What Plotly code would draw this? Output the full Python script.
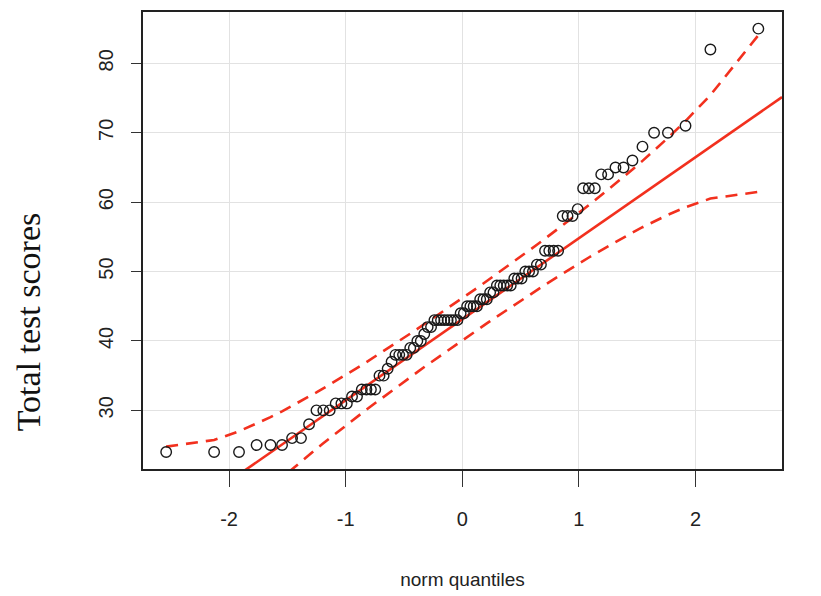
import plotly.graph_objects as go
from statistics import NormalDist

# Sorted total test scores (n = 90)
scores = [24, 24, 24, 25, 25, 25, 26, 26, 28, 30,
          30, 30, 31, 31, 31, 32, 32, 33, 33, 33,
          33, 35, 35, 36, 37, 38, 38, 38, 38, 39,
          39, 40, 40, 41, 42, 42, 43, 43, 43, 43,
          43, 43, 43, 43, 44, 44, 45, 45, 45, 45,
          46, 46, 46, 47, 47, 48, 48, 48, 48, 48,
          49, 49, 49, 50, 50, 50, 51, 51, 53, 53,
          53, 53, 58, 58, 58, 59, 62, 62, 62, 64,
          64, 65, 65, 66, 68, 70, 70, 71, 82, 85]
x_ticks = [-2, -1, 0, 1, 2]
y_ticks = [30, 40, 50, 60, 70, 80]
x_title = "norm quantiles"
y_title = "Total test scores"
envelope_conf = 0.95

nd = NormalDist()
n = len(scores)
ys = sorted(scores)
P = [(i + 0.5) / n for i in range(n)]          # ppoints(n) for n > 10
z = [nd.inv_cdf(p) for p in P]


def quantile7(v, p):
    h = (len(v) - 1) * p
    lo = int(h)
    hi = min(lo + 1, len(v) - 1)
    return v[lo] + (h - lo) * (v[hi] - v[lo])


q1, q3 = quantile7(ys, 0.25), quantile7(ys, 0.75)
zq1, zq3 = nd.inv_cdf(0.25), nd.inv_cdf(0.75)
b = (q3 - q1) / (zq3 - zq1)
a = q1 - b * zq1
zz = nd.inv_cdf(1 - (1 - envelope_conf) / 2)
fit = [a + b * zi for zi in z]
se = [(b / nd.pdf(zi)) * ((p * (1 - p) / n) ** 0.5) for zi, p in zip(z, P)]
upper = [f + zz * s for f, s in zip(fit, se)]
lower = [f - zz * s for f, s in zip(fit, se)]

xr = [-2.738, 2.742]
yr = [21.55, 87.4]
RED = "#F2301E"

fig = go.Figure()
fig.add_trace(go.Scatter(x=xr, y=[a + b * xr[0], a + b * xr[1]], mode="lines",
                         line=dict(color=RED, width=2.6), hoverinfo="skip"))
fig.add_trace(go.Scatter(x=z, y=upper, mode="lines",
                         line=dict(color=RED, width=2.6, dash="12px,8px"), hoverinfo="skip"))
fig.add_trace(go.Scatter(x=z, y=lower, mode="lines",
                         line=dict(color=RED, width=2.6, dash="12px,8px"), hoverinfo="skip"))
fig.add_trace(go.Scatter(x=z, y=ys, mode="markers",
                         marker=dict(symbol="circle-open", size=10.5,
                                     color="#1a1a1a", line=dict(width=1.4))))

FONT = "Liberation Sans Narrow, Liberation Sans, Arial, sans-serif"
tickfont = dict(family=FONT, size=20, color="#222222")

fig.update_layout(
    width=821, height=596,
    margin=dict(l=135, r=47, t=2, b=135),
    paper_bgcolor="white", plot_bgcolor="white",
    showlegend=False,
    xaxis=dict(range=xr, tickmode="array", tickvals=x_ticks,
               ticktext=[str(v) for v in x_ticks],
               showgrid=True, gridcolor="#E2E2E2", gridwidth=1.2,
               zeroline=False, showline=True, linecolor="#222222", linewidth=2,
               mirror=True, ticks="outside", ticklen=16, tickwidth=1.2,
               tickcolor="#333333", tickfont=tickfont, ticklabelstandoff=15,
               title=dict(text=x_title, standoff=44,
                          font=dict(family=FONT, size=19, color="#222222"))),
    yaxis=dict(range=yr, tickmode="array", tickvals=y_ticks,
               ticktext=[str(v) for v in y_ticks],
               showgrid=True, gridcolor="#E2E2E2", gridwidth=1.2,
               zeroline=False, showline=True, linecolor="#222222", linewidth=2,
               mirror=True, ticks="outside", ticklen=10, tickwidth=1.2,
               tickcolor="#333333", tickfont=tickfont, tickangle=-90,
               ticklabelstandoff=10),
    annotations=[dict(text=y_title, xref="paper", yref="paper", x=0, y=0.321,
                      xshift=-115, xanchor="center", yanchor="middle",
                      textangle=-90, showarrow=False,
                      font=dict(family="Liberation Serif, Times New Roman, serif",
                                size=34, color="#111111"))],
)

fig.write_html("out.html")
